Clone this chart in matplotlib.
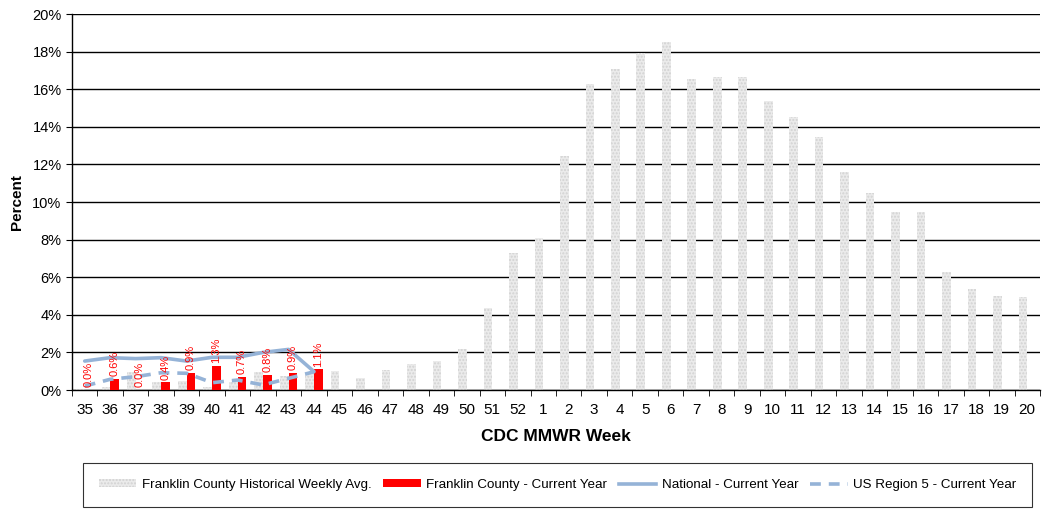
import matplotlib
matplotlib.use("Agg")
import matplotlib.pyplot as plt
from matplotlib.patches import Patch
from matplotlib.lines import Line2D
import numpy as np

plt.rcParams['font.family'] = ['Liberation Sans', 'DejaVu Sans']

weeks = [str(w) for w in list(range(35, 53)) + list(range(1, 21))]
historical = [0.05, 0.18, 0.97, 0.41, 0.50, 0.18, 0.44, 0.97, 0.74, 0.89,
              1.00, 0.64, 1.06, 1.38, 1.56, 2.18, 4.36, 7.30, 8.10, 12.45,
              16.28, 17.10, 17.90, 18.50, 16.54, 16.65, 16.65, 15.37, 14.50, 13.44,
              11.62, 10.48, 9.47, 9.47, 6.28, 5.39, 4.98, 4.95]
franklin_current = [0.0, 0.6, 0.0, 0.4, 0.9, 1.3, 0.7, 0.8, 0.9, 1.1]
national_current = [1.54, 1.72, 1.67, 1.72, 1.54, 1.74, 1.74, 2.00, 2.16, 0.98]
region5_current = [0.21, 0.57, 0.71, 0.92, 0.89, 0.39, 0.53, 0.27, 0.62, 0.97]

line_color = '#95b3d7'

fig = plt.figure(figsize=(10.45, 5.15), dpi=100)
ax = fig.add_axes([0.0689, 0.2427, 0.9263, 0.7301])

x = np.arange(len(weeks))
bw = 0.34
ax.bar(x - 0.17, historical, width=bw, facecolor='#ebebeb', edgecolor='#d2d2d2',
       hatch='.....', linewidth=0, zorder=2)
xc = x[:len(franklin_current)]
ax.bar(xc + 0.17, franklin_current, width=bw, color='#ff0000', zorder=3)
for xi, v in zip(xc, franklin_current):
    ax.annotate(f"{v:.1f}%", (xi + 0.17, v), xytext=(0, 2), textcoords='offset points',
                rotation=90, ha='center', va='bottom', color='#ff0000', fontsize=8, zorder=5)
ax.plot(xc, national_current, color=line_color, lw=2.6, zorder=4, solid_capstyle='round')
ax.plot(xc, region5_current, color=line_color, lw=2.6, ls=(0, (3, 2.2)), zorder=4)

ax.set_xlim(-0.5, len(weeks) - 0.5)
ax.set_ylim(0, 20)
ax.set_yticks(np.arange(0, 21, 2))
ax.set_yticklabels([f"{v}%" for v in range(0, 21, 2)], fontsize=10.5)
ax.yaxis.grid(True, color='black', lw=1)
ax.set_axisbelow(True)
ax.set_xticks(x)
ax.set_xticklabels(weeks, fontsize=11)
ax.tick_params(axis='x', which='major', length=0, pad=9)
ax.set_xticks(np.arange(-0.5, len(weeks), 1), minor=True)
ax.tick_params(axis='x', which='minor', length=4, direction='out', color='black')
ax.tick_params(axis='y', length=4, direction='out')
for s in ['top', 'right']:
    ax.spines[s].set_visible(False)
ax.spines['left'].set_linewidth(1)
ax.spines['bottom'].set_linewidth(1)
ax.set_ylabel('Percent', fontsize=11, fontweight='bold', labelpad=6)
ax.set_xlabel('CDC MMWR Week', fontsize=12.5, fontweight='bold', labelpad=9)

handles = [Patch(facecolor='#ebebeb', edgecolor='#d2d2d2', hatch='.....', linewidth=0),
           Patch(facecolor='#ff0000'),
           Line2D([0], [0], color=line_color, lw=2.6),
           Line2D([0], [0], color=line_color, lw=2.6, ls=(0, (3, 2.2)))]
labels = ['Franklin County Historical Weekly Avg.', 'Franklin County - Current Year',
          'National - Current Year', 'US Region 5 - Current Year']
leg = fig.legend(handles, labels, loc='center', bbox_to_anchor=(0.5335, 0.058), ncol=4,
                 fontsize=9.6, frameon=True, fancybox=False, edgecolor='black',
                 handlelength=2.8, handleheight=0.55, columnspacing=0.9, borderpad=1.2,
                 handletextpad=0.4, borderaxespad=0)
leg.get_frame().set_linewidth(0.8)

fig.savefig('out.png', dpi=100)
